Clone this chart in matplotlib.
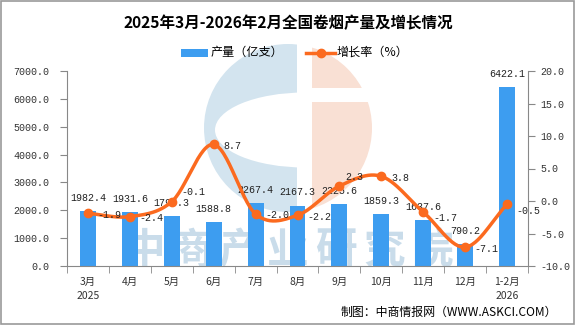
import numpy as np
import matplotlib
matplotlib.use("Agg")
import matplotlib.pyplot as plt
from matplotlib.patches import Rectangle, Circle, Ellipse
from matplotlib.lines import Line2D

plt.rcParams['font.family'] = ['Noto Sans CJK SC', 'DejaVu Sans']

categories = ["3月\n2025", "4月", "5月", "6月", "7月", "8月", "9月", "10月", "11月", "12月", "1-2月\n2026"]
production = [1982.4, 1931.6, 1797.3, 1588.8, 2267.4, 2167.3, 2225.6, 1859.3, 1637.6, 790.2, 6422.1]
growth = [-1.9, -2.4, -0.1, 8.7, -2.0, -2.2, 2.3, 3.8, -1.7, -7.1, -0.5]

BLUE = "#3d9df0"
ORANGE = "#fb6a1f"
NUMFONT = ["Liberation Mono", "DejaVu Sans"]
NUMSIZE = 7.2

fig = plt.figure(figsize=(5.76, 3.25), dpi=100)
fig.patch.set_facecolor("white")
fig.add_artist(Rectangle((0.002, 0.003), 0.995, 0.994, transform=fig.transFigure,
                         fill=False, edgecolor="#999999", lw=1.2))

L, R, B, T = 67/576, 528/576, 1-266/325, 1-71/325
ax = fig.add_axes([L, B, R-L, T-B])
ax2 = ax.twinx()

# ---- watermark (pixel coordinates) ----
wm = fig.add_axes([0, 0, 1, 1], zorder=-1)
wm.set_xlim(0, 576); wm.set_ylim(325, 0); wm.axis("off")
LB, LO = "#d3e4ef", "#f9e0d4"
cb = Circle((288, 128), 84, facecolor=LB, edgecolor="none")
wm.add_patch(cb); cb.set_clip_path(Rectangle((0, 0), 297, 325, transform=wm.transData))
el = Ellipse((305, 130), 180, 75, facecolor="white", edgecolor="none")
wm.add_patch(el); el.set_clip_path(Rectangle((0, 0), 297, 325, transform=wm.transData))
co = Circle((288, 128), 84, facecolor=LO, edgecolor="none")
wm.add_patch(co); co.set_clip_path(Rectangle((312, 0), 264, 325, transform=wm.transData))
wm.add_patch(Rectangle((312, 88), 80, 14, facecolor="white", edgecolor="none"))
for i, ch in enumerate("中商产业研究院"):
    wm.text(144 + 48 * i, 251, ch, fontsize=30, color="#c9dcea", ha="center", va="center",
            fontweight="bold")

x = np.arange(len(categories))
ax.set_zorder(1)
ax2.set_zorder(2)
ax.patch.set_visible(False)
ax2.patch.set_visible(False)

ax.bar(x, production, width=0.38, color=BLUE, zorder=2)
ax.set_ylim(0, 7000)
ax.set_xlim(-0.5, len(categories) - 0.5)
lt = np.arange(0, 7001, 1000)
ax.set_yticks(lt)
ax.set_yticklabels([f"{v:.1f}" for v in lt])
for v, xi in zip(production, x):
    ax.annotate(f"{v:.1f}", (xi, v), xytext=(0, 9.5), textcoords="offset points",
                ha="center", va="center", fontsize=NUMSIZE, family=NUMFONT,
                color="#222222", zorder=5)

# smooth line for drawing (Catmull-Rom through the data points)
def catmull(xs, ys, n=30):
    px = np.concatenate([[2*xs[0]-xs[1]], xs, [2*xs[-1]-xs[-2]]])
    py = np.concatenate([[2*ys[0]-ys[1]], ys, [2*ys[-1]-ys[-2]]])
    outx, outy = [], []
    t = np.linspace(0, 1, n)
    for i in range(1, len(px)-2):
        for arr, out in ((px, outx), (py, outy)):
            p0, p1, p2, p3 = arr[i-1], arr[i], arr[i+1], arr[i+2]
            out.extend(0.5*((2*p1) + (-p0+p2)*t + (2*p0-5*p1+4*p2-p3)*t**2 + (-p0+3*p1-3*p2+p3)*t**3))
    return np.array(outx), np.array(outy)

g = np.array(growth, dtype=float)
sx, sy = catmull(x.astype(float), g)
ax2.plot(sx, sy, color=ORANGE, lw=2.5, zorder=3, solid_capstyle="round")
ax2.plot(x, g, "o", color=ORANGE, ms=6, zorder=4)
ax2.set_ylim(-10, 20)
rt = np.arange(-10, 21, 5)
ax2.set_yticks(rt)
ax2.set_yticklabels([f"{v:.1f}" for v in rt])
label_off = {2: (7, 7), 6: (4.5, 6.5), 8: (7, -4), 10: (7, -5)}
for i, (v, xi) in enumerate(zip(growth, x)):
    dx, dy = label_off.get(i, (7, -1))
    ax2.annotate(f"{v:.1f}", (xi, v), xytext=(dx, dy), textcoords="offset points",
                 ha="left", va="center", fontsize=NUMSIZE, family=NUMFONT,
                 color="#222222", zorder=5)

# axes styling
for a in (ax, ax2):
    for s in a.spines.values():
        s.set_visible(False)
    a.tick_params(colors="#333333", labelsize=NUMSIZE)
ax.spines["left"].set_visible(True); ax.spines["left"].set_color("#888888")
ax.spines["bottom"].set_visible(True); ax.spines["bottom"].set_color("#888888")
ax2.spines["right"].set_visible(True); ax2.spines["right"].set_color("#888888")
ax.tick_params(axis="y", length=5, color="#888888", pad=8)
ax2.tick_params(axis="y", length=5, color="#888888", pad=4)
for lab in ax.get_yticklabels() + ax2.get_yticklabels():
    lab.set_family(NUMFONT)

ax.set_xticks(x)
ax.set_xticklabels(categories, fontsize=7.5, linespacing=1.5)
ax.tick_params(axis="x", length=0, pad=8)
ax.set_xticks(np.arange(-0.5, len(categories), 1), minor=True)
ax.tick_params(axis="x", which="minor", length=5, color="#888888")

fig.text(288/576, 1-23/325, "2025年3月-2026年2月全国卷烟产量及增长情况", ha="center", va="center",
         fontsize=11.2, fontweight="bold")

# legend
ly = 1-52.5/325
fig.add_artist(Rectangle((181/576, ly-4/325), 27/576, 8/325, transform=fig.transFigure,
                         facecolor=BLUE, edgecolor="none"))
fig.text(211/576, ly, "产量（亿支）", ha="left", va="center", fontsize=8.7)
fig.add_artist(Line2D([306/576, 335/576], [ly, ly], transform=fig.transFigure,
                      color=ORANGE, lw=2.5))
fig.add_artist(Line2D([321/576], [ly], transform=fig.transFigure,
                      color=ORANGE, marker="o", ms=6))
fig.text(337/576, ly, "增长率（%）", ha="left", va="center", fontsize=8.7)

fig.text(557/576, 1-312/325, "制图：中商情报网（WWW.ASKCI.COM）", ha="right", va="center", fontsize=8.6)

fig.savefig("out.png", dpi=100)
